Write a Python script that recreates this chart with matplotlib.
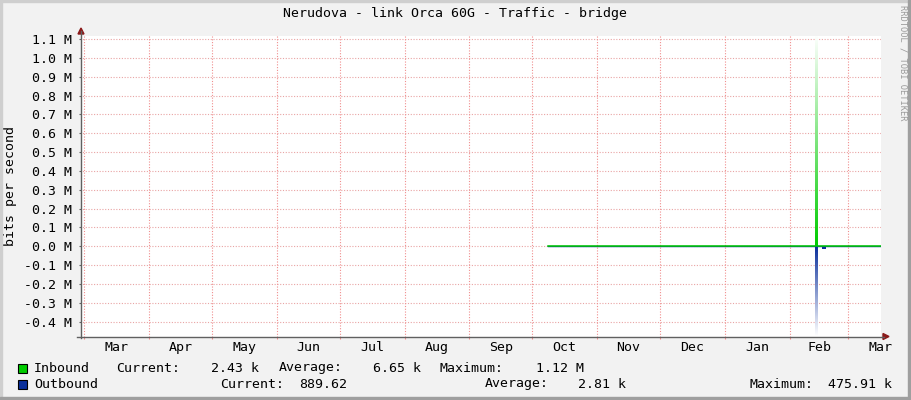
import numpy as np
import matplotlib.pyplot as plt
from matplotlib.patches import Rectangle, Polygon
from matplotlib.lines import Line2D
from matplotlib.colors import LinearSegmentedColormap

W, H = 911, 400

# months of the one-year window (days counted from 1 Mar)
months = ['Mar', 'Apr', 'May', 'Jun', 'Jul', 'Aug', 'Sep', 'Oct', 'Nov', 'Dec', 'Jan', 'Feb', 'Mar']
month_len = [31, 30, 31, 30, 31, 31, 30, 31, 30, 31, 31, 28, 31]
month_start = np.concatenate([[0], np.cumsum(month_len)[:-1]])

# traffic (bits per second)
inbound_days = [221.7, 380.6]
inbound_vals = [2.43e3, 2.43e3]
outbound_days = [221.7, 380.6]
outbound_vals = [-889.62, -889.62]
spike_day = 349.6
inbound_peak = 1.12e6
outbound_peak = -475.91e3
blip_day = 353.4
blip_val = -14e3

y_ticks = np.round(np.arange(-0.4, 1.15, 0.1), 1) + 0.0

# legend rows
names = ['Inbound', 'Outbound']
current = ['2.43 k', '889.62']
average = ['6.65 k', '2.81 k']
maximum = ['1.12 M', '475.91 k']

green = '#00cc00'
blue = '#0a2f9b'
mono = 'DejaVu Sans Mono'
fs = 9.5


def fx(x):
    return x / W


def fy(y):
    return 1 - y / H


fig = plt.figure(figsize=(W / 100, H / 100), dpi=100)
fig.patch.set_facecolor('#f2f2f2')

ax = fig.add_axes([fx(81), fy(336.5), 800 / W, 300.5 / H])
ax.set_facecolor('white')
for s in ax.spines.values():
    s.set_visible(False)

# grid
ax.hlines(y_ticks * 1e6, -10, 400, colors='#e9a4a4', lw=0.8, linestyles=(0, (1, 1.5)), zorder=1)
ax.vlines(month_start, -1e6, 2e6, colors='#f08e8e', lw=0.8, linestyles=(0, (1, 1.5)), zorder=1)

# gradient spikes (colour at the zero line, fading to white)
gcm = LinearSegmentedColormap.from_list('g', ['#ffffff', green])
bcm = LinearSegmentedColormap.from_list('b', ['#ffffff', blue])
grad = np.linspace(0, 1, 256).reshape(-1, 1)
ax.imshow(grad, cmap=gcm, aspect='auto', origin='upper',
          extent=[spike_day - 0.5, spike_day + 0.5, 0, inbound_peak], zorder=3)
ax.imshow(grad, cmap=bcm, aspect='auto', origin='lower',
          extent=[spike_day - 0.5, spike_day + 0.5, outbound_peak, 0], zorder=3)
ax.bar([blip_day], [blip_val], width=1.8, color=blue, zorder=3)

ax.plot(outbound_days, outbound_vals, color=blue, lw=1.0, zorder=4)
ax.plot(inbound_days, inbound_vals, color=green, lw=1.1, zorder=5)

ax.set_xlim(-1.6, 380.6)
ax.set_ylim(-0.479e6, 1.116e6)

ax.set_yticks(y_ticks * 1e6)
ax.set_yticklabels([f'{v:.1f} M' for v in y_ticks], family=mono, fontsize=fs)
ax.tick_params(axis='y', length=1.5, width=0.8, color='#606060', pad=5)
ax.set_xticks(month_start[month_start < 380])
ax.set_xticklabels([])
ax.tick_params(axis='x', length=1.5, width=0.8, color='#f08e8e')

xt = ax.get_xaxis_transform()
for m, s, n in zip(months, month_start, month_len):
    ax.text(s + n / 2, -0.035, m, transform=xt, ha='center', va='center',
            family=mono, fontsize=fs, clip_on=False)

ax.set_ylabel('bits per second', family=mono, fontsize=fs, labelpad=5)

# axes with arrows
axis_c = '#606060'
arrow_c = '#8b1a1a'
fig.add_artist(Line2D([fx(81), fx(81)], [fy(338), fy(31)], color=axis_c, lw=1, transform=fig.transFigure))
fig.add_artist(Line2D([fx(77), fx(884)], [fy(336.5), fy(336.5)], color=axis_c, lw=1, transform=fig.transFigure))
fig.add_artist(Polygon([[fx(78), fy(34)], [fx(84), fy(34)], [fx(81), fy(28)]], closed=True,
                       color=arrow_c, transform=fig.transFigure))
fig.add_artist(Polygon([[fx(883), fy(333.5)], [fx(883), fy(339.5)], [fx(889), fy(336.5)]], closed=True,
                       color=arrow_c, transform=fig.transFigure))

# title and side text
fig.text(fx(455), fy(13), 'Nerudova - link Orca 60G - Traffic - bridge', ha='center', va='center',
         family=mono, fontsize=fs)
fig.text(fx(903), fy(5), 'RRDTOOL / TOBI OETIKER', ha='center', va='top', rotation=270,
         family=mono, fontsize=6.3, color='#9a9a9a')

# legend
row_y = [368, 384]
label_x = [[116, 279, 440], [220, 485, 750]]
value_x = [[259, 421, 584], [347, 626, 892]]
for i, (nm, cur, avg, mx, col) in enumerate(zip(names, current, average, maximum, [green, blue])):
    y = row_y[i]
    fig.add_artist(Rectangle((fx(18), fy(y + 4.5)), 9 / W, 9 / H, facecolor=col, edgecolor='black',
                             lw=0.8, transform=fig.transFigure))
    fig.text(fx(34), fy(y), nm, ha='left', va='center', family=mono, fontsize=fs)
    for lx, vx, lab, val in zip(label_x[i], value_x[i], ['Current:', 'Average:', 'Maximum:'], [cur, avg, mx]):
        fig.text(fx(lx), fy(y), lab, ha='left', va='center', family=mono, fontsize=fs)
        fig.text(fx(vx), fy(y), val, ha='right', va='center', family=mono, fontsize=fs)

# border
fig.add_artist(Rectangle((0, fy(2)), 1, 2 / H, color='#cfcfcf', transform=fig.transFigure))
fig.add_artist(Rectangle((0, 0), 2 / W, 1, color='#cfcfcf', transform=fig.transFigure))
fig.add_artist(Rectangle((0, 0), 1, 3 / H, color='#9f9f9f', transform=fig.transFigure))
fig.add_artist(Rectangle((fx(908), 0), 3 / W, 1, color='#9f9f9f', transform=fig.transFigure))

fig.savefig('out.png', dpi=100, facecolor=fig.get_facecolor())
